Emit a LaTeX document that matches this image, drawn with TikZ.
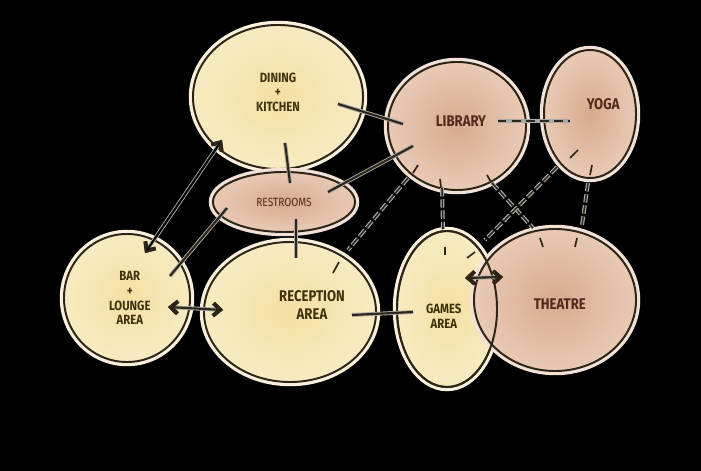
\documentclass[tikz,border=0pt]{standalone}
\usepackage{fontspec}
\newfontfamily\handfont[FakeStretch=0.85]{Fira Sans}
\usetikzlibrary{arrows.meta,positioning,shapes.geometric,calc}

\definecolor{ink}{HTML}{2E2418}
\definecolor{rim}{HTML}{A8A8A8}
\definecolor{yelin}{HTML}{F5DFA2}
\definecolor{yelout}{HTML}{F8EBC2}
\definecolor{yelhalo}{HTML}{FAF1DC}
\definecolor{pnkin}{HTML}{D8AA8E}
\definecolor{pnkout}{HTML}{E9CAB5}
\definecolor{pnkhalo}{HTML}{F1E1D6}
\definecolor{yeltext}{HTML}{40320E}
\definecolor{pnktext}{HTML}{52291B}

\begin{document}
\begin{tikzpicture}[
  x=0.025cm, y=-0.025cm,
  >={Straight Barb[length=5pt,width=9pt,color=ink]},
  bubble/.style={ellipse, draw=ink, line width=1.4pt, inner sep=0pt},
  yel/.style={bubble, inner color=yelin, outer color=yelout, preaction={draw=yelhalo, line width=6pt}},
  pnk/.style={bubble, inner color=pnkin, outer color=pnkout, preaction={draw=pnkhalo, line width=6pt}},
  txt/.style={font=\handfont\bfseries\fontsize{9.5}{10.5}\selectfont, align=center, text=yeltext},
  bigtxt/.style={txt, font=\handfont\bfseries\fontsize{11}{12.5}\selectfont},
  link/.style={draw=ink, line width=1.5pt, preaction={draw=rim, line width=2.8pt}},
  hollow/.style={link, draw=black},
  dashline/.style={link, dash pattern=on 6pt off 4pt},
  chain/.style={draw=ink, line width=1.1pt, dash pattern=on 6pt off 2pt,
    preaction={draw=rim, line width=2.8pt, dash pattern=on 6pt off 2pt}},
  tick/.style={draw=ink, line width=1.2pt}
]
\fill[black] (0,0) rectangle (701,471);
\useasboundingbox (0,0) rectangle (701,471);

% bubbles
\node[yel, minimum width=4.25cm, minimum height=3.6cm,
  label={[txt, yshift=.12cm]center:DINING\\+\\KITCHEN}] (din) at (278,97) {};
\node[pnk, minimum width=3.55cm, minimum height=1.5cm,
  label={[txt, text=pnktext, font=\handfont\fontsize{8.5}{9}\selectfont]center:RESTROOMS}] (rest) at (284,202) {};
\node[pnk, minimum width=3.45cm, minimum height=3.2cm,
  label={[bigtxt, text=pnktext, xshift=.1cm, yshift=.12cm]center:LIBRARY}] (lib) at (457,126) {};
\node[pnk, minimum width=2.3cm, minimum height=3.2cm,
  label={[bigtxt, text=pnktext, xshift=.33cm, yshift=.25cm]center:YOGA}] (yoga) at (590,114) {};
\node[yel, minimum width=3.15cm, minimum height=3.2cm,
  label={[txt, xshift=.07cm]center:BAR\\+\\LOUNGE\\AREA}] (bar) at (127,298) {};
\node[yel, minimum width=4.3cm, minimum height=3.5cm,
  label={[bigtxt, xshift=.55cm, yshift=.18cm]center:RECEPTION\\AREA}] (rec) at (290,312) {};
\node[yel, minimum width=2.5cm, minimum height=3.9cm,
  label={[txt, xshift=-.08cm, yshift=-.18cm]center:GAMES\\AREA}] (gam) at (447,309) {};
\node[pnk, minimum width=4.05cm, minimum height=3.55cm,
  label={[bigtxt, text=pnktext, xshift=.12cm, yshift=-.1cm]center:THEATRE}] (thea) at (555,300) {};
\draw[ink, line width=1.4pt] (gam.center) ellipse [x radius=1.25cm, y radius=1.95cm];

% solid links
\draw[hollow, <->] ($(din)+(-56,43)$) -- ($(bar)+(18,-45)$);
\draw[link] ($(rest)+(-57,6)$) -- ($(bar)+(43,-22)$);
\draw[link] ($(din)+(60,7)$) -- ($(lib)+(-54,-2)$);
\draw[link] ($(din)+(7,46)$) -- ($(rest)+(6,-19)$);
\draw[link] ($(lib)+(-44,20)$) -- ($(rest)+(44,-10)$);
\draw[link] ($(rest)+(12,17)$) -- ($(rec)+(6,-54)$);
\draw[link, <->] ($(bar)+(41,9)$) -- ($(rec)+(-67,-2)$);
\draw[link] ($(rec)+(62,3)$) -- ($(gam)+(-34,3)$);
\draw[dashline] ($(lib)+(41,-5)$) -- ($(yoga)+(-20,7)$);
\draw[link, <->] ($(gam)+(18,-31)$) -- ($(thea)+(-52,-23)$);

% chained links
\draw[chain] ($(lib)+(-49,52)$) -- ($(rec)+(58,-62)$);
\draw[tick] ($(lib)+(-44,47)$) -- ($(lib)+(-39,39)$);
\draw[tick] ($(rec)+(43,-39)$) -- ($(rec)+(49,-50)$);
\draw[chain] ($(lib)+(-15,62)$) -- ($(gam)+(-4,-80)$);
\draw[tick] ($(lib)+(-17,53)$) -- ($(lib)+(-16,61)$);
\draw[tick] ($(gam)+(-2,-62)$) -- ($(gam)+(-2,-54)$);
\draw[chain] ($(lib)+(35,57)$) -- ($(thea)+(-22,-72)$);
\draw[tick] ($(lib)+(30,49)$) -- ($(lib)+(34,56)$);
\draw[tick] ($(thea)+(-15,-62)$) -- ($(thea)+(-12,-53)$);
\draw[chain] ($(yoga)+(-33,53)$) -- ($(gam)+(38,-69)$);
\draw[tick] ($(yoga)+(-12,36)$) -- ($(yoga)+(-20,44)$);
\draw[tick] ($(gam)+(20,-51)$) -- ($(gam)+(28,-57)$);
\draw[chain] ($(yoga)+(-2,69)$) -- ($(thea)+(27,-75)$);
\draw[tick] ($(yoga)+(2,51)$) -- ($(yoga)+(0,61)$);
\draw[tick] ($(thea)+(22,-62)$) -- ($(thea)+(20,-53)$);
\end{tikzpicture}
\end{document}
